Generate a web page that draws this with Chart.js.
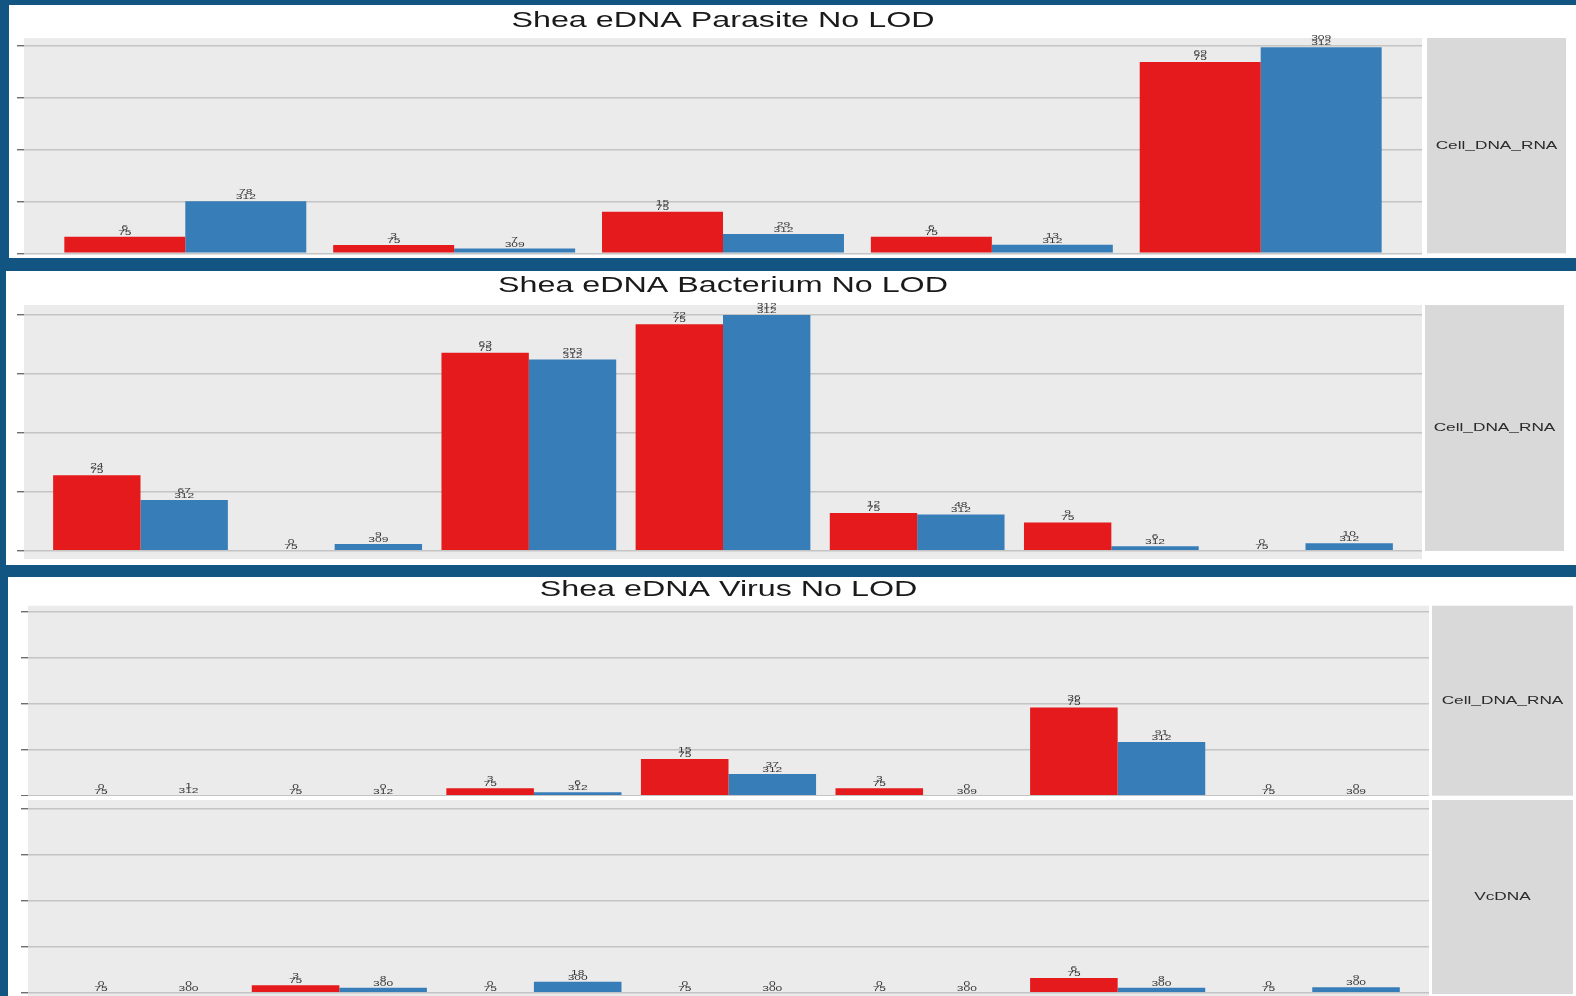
<!DOCTYPE html>
<html>
<head>
<meta charset="utf-8">
<script src="https://cdn.jsdelivr.net/npm/chart.js@4.4.1/dist/chart.umd.min.js"></script>
<style>
  html, body { margin: 0; padding: 0; width: 1576px; height: 996px; overflow: hidden; background: #125582; }
  .panel { position: absolute; background: #ffffff; }
  canvas { position: absolute; display: block; }
</style>
</head>
<body>
<div class="panel" style="left:9px;top:5px;width:1567px;height:253px"></div>
<div class="panel" style="left:6px;top:271px;width:1570px;height:294px"></div>
<div class="panel" style="left:8px;top:577px;width:1568px;height:419px"></div>

<canvas id="parasite" width="1567" height="253" style="left:9px;top:5px"></canvas>
<canvas id="bacterium" width="1570" height="294" style="left:6px;top:271px"></canvas>
<canvas id="virusCell" width="1568" height="219" style="left:8px;top:577px"></canvas>
<canvas id="virusVc" width="1568" height="200" style="left:8px;top:796px"></canvas>

<script>
// ---- data: positives / samples tested, per group ----
const parasiteGroups = ['G1', 'G2', 'G3', 'G4', 'G5'];
const parasiteRedPos = [6, 3, 15, 6, 69];
const parasiteRedTot = [75, 75, 75, 75, 75];
const parasiteBluePos = [78, 7, 29, 13, 309];
const parasiteBlueTot = [312, 309, 312, 312, 312];

const bacteriumGroups = ['G1', 'G2', 'G3', 'G4', 'G5', 'G6', 'G7'];
const bacteriumRedPos = [24, 0, 63, 72, 12, 9, 0];
const bacteriumRedTot = [75, 75, 75, 75, 75, 75, 75];
const bacteriumBluePos = [67, 9, 253, 312, 48, 6, 10];
const bacteriumBlueTot = [312, 309, 312, 312, 312, 312, 312];

const virusGroups = ['G1', 'G2', 'G3', 'G4', 'G5', 'G6', 'G7'];
const virusCellRedPos = [0, 0, 3, 15, 3, 36, 0];
const virusCellRedTot = [75, 75, 75, 75, 75, 75, 75];
const virusCellBluePos = [1, 0, 6, 37, 0, 91, 0];
const virusCellBlueTot = [312, 312, 312, 312, 309, 312, 309];
const virusVcRedPos = [0, 3, 0, 0, 0, 6, 0];
const virusVcRedTot = [75, 75, 75, 75, 75, 75, 75];
const virusVcBluePos = [0, 8, 18, 0, 0, 8, 9];
const virusVcBlueTot = [300, 300, 300, 300, 300, 300, 300];

const yTickValues = [0, 0.25, 0.5, 0.75, 1];

const RED = '#E41A1C';
const BLUE = '#377EB8';
const SX = 1.5; // horizontal text stretch
const FONT = '"Liberation Sans", Arial, Helvetica, sans-serif';

function stretchedText(ctx, text, x, y, font, color, baseline) {
  ctx.save();
  ctx.font = font;
  ctx.fillStyle = color;
  ctx.textAlign = 'center';
  ctx.textBaseline = baseline || 'middle';
  ctx.translate(x, y);
  ctx.scale(SX, 1);
  ctx.fillText(text, 0, 0);
  ctx.restore();
}

const panelDecor = {
  id: 'panelDecor',
  beforeDraw(chart, args, o) {
    const ctx = chart.ctx, a = chart.chartArea;
    ctx.save();
    ctx.fillStyle = '#ebebeb';
    ctx.fillRect(a.left, a.top, a.right - a.left, a.bottom - a.top);
    if (o.strip) {
      const x0 = a.right + o.stripGap, x1 = x0 + o.stripWidth;
      const y0 = a.top, y1 = o.stripBottom != null ? o.stripBottom : a.bottom;
      ctx.fillStyle = '#d9d9d9';
      ctx.fillRect(x0, y0, x1 - x0, y1 - y0);
      stretchedText(ctx, o.strip, (x0 + x1) / 2, (y0 + y1) / 2, '11.5px ' + FONT, '#2b2b2b');
    }
    if (o.title) {
      stretchedText(ctx, o.title, (a.left + a.right) / 2, o.titleY, '21.5px ' + FONT, '#1a1a1a');
    }
    ctx.restore();
  },
  afterDatasetsDraw(chart) {
    const ctx = chart.ctx;
    chart.data.datasets.forEach((ds, d) => {
      const meta = chart.getDatasetMeta(d);
      meta.data.forEach((el, i) => {
        stretchedText(ctx, String(ds.pos[i]), el.x, el.y - 7, '8px ' + FONT, '#333333', 'alphabetic');
        stretchedText(ctx, String(ds.tot[i]), el.x, el.y - 2, '8px ' + FONT, '#333333', 'alphabetic');
      });
    });
  }
};

function makeChart(id, groups, redPos, redTot, bluePos, blueTot, cfg) {
  const toPoints = (pos, tot) => pos.map((p, i) => ({ x: i, y: p / tot[i] }));
  return new Chart(document.getElementById(id), {
    type: 'bar',
    data: {
      labels: groups,
      datasets: [
        { data: toPoints(redPos, redTot), pos: redPos, tot: redTot, backgroundColor: RED,
          borderWidth: 0, categoryPercentage: 0.9, barPercentage: 1.0 },
        { data: toPoints(bluePos, blueTot), pos: bluePos, tot: blueTot, backgroundColor: BLUE,
          borderWidth: 0, categoryPercentage: 0.9, barPercentage: 1.0 }
      ]
    },
    options: {
      responsive: false,
      animation: false,
      events: [],
      layout: { padding: cfg.padding },
      plugins: {
        legend: { display: false },
        tooltip: { enabled: false },
        panelDecor: cfg.decor
      },
      scales: {
        x: {
          type: 'linear',
          offset: false,
          min: -0.6,
          max: groups.length - 0.4,
          display: false,
          grid: { offset: false },
          afterBuildTicks: s => { s.ticks = groups.map((g, i) => ({ value: i })); }
        },
        y: {
          min: cfg.yMin,
          max: cfg.yMax,
          afterBuildTicks: s => { s.ticks = yTickValues.map(v => ({ value: v })); },
          ticks: { display: false },
          border: { display: false },
          grid: { color: '#c4c4c4', lineWidth: 1.5, drawTicks: true, tickLength: 7,
                  tickColor: '#555555', tickWidth: 1.2 }
        }
      }
    },
    plugins: [panelDecor]
  });
}

makeChart('parasite', parasiteGroups, parasiteRedPos, parasiteRedTot, parasiteBluePos, parasiteBlueTot, {
  padding: { left: 8, right: 154, top: 33, bottom: 4.7 },
  yMin: 0, yMax: 1.035,
  decor: { title: 'Shea eDNA Parasite No LOD', titleY: 16, strip: 'Cell_DNA_RNA', stripGap: 5, stripWidth: 139 }
});

makeChart('bacterium', bacteriumGroups, bacteriumRedPos, bacteriumRedTot, bacteriumBluePos, bacteriumBlueTot, {
  padding: { left: 11, right: 154, top: 34, bottom: 6 },
  yMin: -0.035, yMax: 1.042,
  decor: { title: 'Shea eDNA Bacterium No LOD', titleY: 15.5, strip: 'Cell_DNA_RNA', stripGap: 3, stripWidth: 139, stripBottom: 280 }
});

makeChart('virusCell', virusGroups, virusCellRedPos, virusCellRedTot, virusCellBluePos, virusCellBlueTot, {
  padding: { left: 13, right: 147, top: 28.7, bottom: 0.3 },
  yMin: 0, yMax: 1.034,
  decor: { title: 'Shea eDNA Virus No LOD', titleY: 13, strip: 'Cell_DNA_RNA', stripGap: 3, stripWidth: 141 }
});

makeChart('virusVc', virusGroups, virusVcRedPos, virusVcRedTot, virusVcBluePos, virusVcBlueTot, {
  padding: { left: 13, right: 147, top: 4, bottom: 0 },
  yMin: -0.018, yMax: 1.049,
  decor: { strip: 'VcDNA', stripGap: 3, stripWidth: 141, stripBottom: 198 }
});
</script>
</body>
</html>
